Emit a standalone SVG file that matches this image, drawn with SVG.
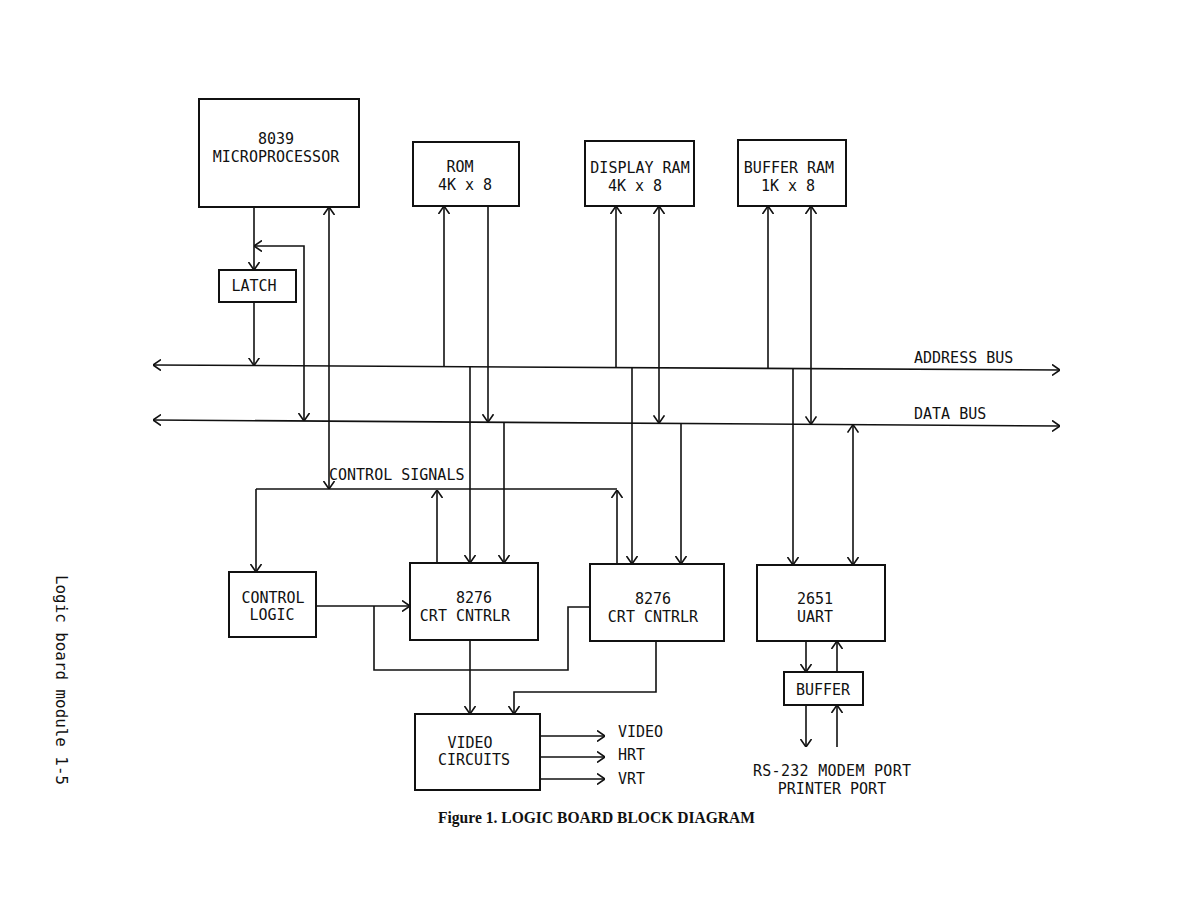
<svg xmlns="http://www.w3.org/2000/svg" width="1187" height="918" viewBox="0 0 1187 918">
<defs>
<marker id="ah" viewBox="0 0 8 12" refX="8" refY="6" markerWidth="8" markerHeight="12" markerUnits="userSpaceOnUse" orient="auto-start-reverse">
<path d="M0,0.5 L8,6 L0,11.5" fill="none" stroke="#111" stroke-width="1.6"/>
</marker>
<style>
.box{fill:none;stroke:#111;stroke-width:2}
.t{font-family:"DejaVu Sans Mono","Liberation Mono",monospace;font-size:15px;fill:#111;text-anchor:middle}
.tl{font-family:"DejaVu Sans Mono","Liberation Mono",monospace;font-size:15px;fill:#111}
.c{fill:none;stroke:#111;stroke-width:1.6}
.a{marker-end:url(#ah)}
.b{marker-start:url(#ah);marker-end:url(#ah)}
</style>
</defs>
<rect width="1187" height="918" fill="#fff"/>

<g id="connectors">
<path class="c b" d="M153,365 L1060,370"/>
<path class="c b" d="M153,420 L1060,426"/>
<path class="c a" d="M254,207 V270"/>
<path class="c a" d="M254,302 V365.6"/>
<path class="c b" d="M254,246 H304 V421"/>
<path class="c b" d="M329,207 V489"/>
<path class="c" d="M256,489 H617"/>
<path class="c a" d="M256,489 V572"/>
<path class="c a" d="M437,563 V490"/>
<path class="c a" d="M617,564 V490"/>
<path class="c a" d="M444,366.6 V206"/>
<path class="c a" d="M488,206 V422.2"/>
<path class="c a" d="M470,366.7 V563"/>
<path class="c a" d="M504,422.3 V563"/>
<path class="c a" d="M616,367.6 V206"/>
<path class="c b" d="M659,206 V423.3"/>
<path class="c a" d="M632,367.6 V564"/>
<path class="c a" d="M681,423.5 V564"/>
<path class="c a" d="M768,368.4 V206"/>
<path class="c b" d="M811,206 V424.4"/>
<path class="c a" d="M793,368.5 V565"/>
<path class="c b" d="M853,424.6 V565"/>
<path class="c a" d="M316,606 H410"/>
<path class="c" d="M374,606 V670 H568 V607 H590"/>
<path class="c a" d="M470,640 V714"/>
<path class="c a" d="M656,641 V692 H514 V714"/>
<path class="c a" d="M540,736 H605"/>
<path class="c a" d="M540,757 H605"/>
<path class="c a" d="M540,779 H605"/>
<path class="c a" d="M806,641 V672"/>
<path class="c a" d="M837,672 V641"/>
<path class="c a" d="M806,705 V747"/>
<path class="c a" d="M837,747 V705"/>
</g>

<g id="microprocessor">
<rect class="box" x="199" y="99" width="160" height="108"/>
<text class="t" x="276" y="144">8039</text>
<text class="t" x="276" y="162">MICROPROCESSOR</text>
</g>
<g id="rom">
<rect class="box" x="413" y="142" width="106" height="64"/>
<text class="t" x="460" y="172">ROM</text>
<text class="t" x="465" y="190">4K x 8</text>
</g>
<g id="display-ram">
<rect class="box" x="585" y="141" width="109" height="65"/>
<text class="t" x="640" y="173">DISPLAY RAM</text>
<text class="t" x="635" y="191">4K x 8</text>
</g>
<g id="buffer-ram">
<rect class="box" x="738" y="140" width="108" height="66"/>
<text class="t" x="789" y="173">BUFFER RAM</text>
<text class="t" x="788" y="191">1K x 8</text>
</g>
<g id="latch">
<rect class="box" x="219" y="270" width="77" height="32"/>
<text class="t" x="254" y="291">LATCH</text>
</g>
<g id="bus-labels">
<text class="tl" x="914" y="363">ADDRESS BUS</text>
<text class="tl" x="914" y="419">DATA BUS</text>
<text class="tl" x="329" y="480">CONTROL SIGNALS</text>
</g>
<g id="control-logic">
<rect class="box" x="229" y="572" width="87" height="65"/>
<text class="t" x="273" y="603">CONTROL</text>
<text class="t" x="272" y="620">LOGIC</text>
</g>
<g id="crt1">
<rect class="box" x="410" y="563" width="128" height="77"/>
<text class="t" x="474" y="603">8276</text>
<text class="t" x="465" y="621">CRT CNTRLR</text>
</g>
<g id="crt2">
<rect class="box" x="590" y="564" width="134" height="77"/>
<text class="t" x="653" y="604">8276</text>
<text class="t" x="653" y="622">CRT CNTRLR</text>
</g>
<g id="uart">
<rect class="box" x="757" y="565" width="128" height="76"/>
<text class="t" x="815" y="604">2651</text>
<text class="t" x="815" y="622">UART</text>
</g>
<g id="buffer">
<rect class="box" x="784" y="672" width="79" height="33"/>
<text class="t" x="823" y="695">BUFFER</text>
</g>
<g id="video-circuits">
<rect class="box" x="415" y="714" width="125" height="76"/>
<text class="t" x="470" y="748">VIDEO</text>
<text class="t" x="474" y="765">CIRCUITS</text>
</g>
<g id="outputs">
<text class="tl" x="618" y="737">VIDEO</text>
<text class="tl" x="618" y="760">HRT</text>
<text class="tl" x="618" y="784">VRT</text>
<text class="t" x="832" y="776" textLength="158" lengthAdjust="spacing">RS-232 MODEM PORT</text>
<text class="t" x="832" y="794">PRINTER PORT</text>
</g>
<g id="caption">
<text x="438" y="823" font-family="Liberation Serif, serif" font-weight="bold" font-size="17.5" fill="#111" textLength="317" lengthAdjust="spacingAndGlyphs">Figure 1. LOGIC BOARD BLOCK DIAGRAM</text>
</g>
<g id="side-text">
<text transform="translate(56,575) rotate(90)" x="0" y="0" font-family="DejaVu Sans Mono, monospace" font-size="16" fill="#111" textLength="210" lengthAdjust="spacingAndGlyphs">Logic board module 1-5</text>
</g>
</svg>
